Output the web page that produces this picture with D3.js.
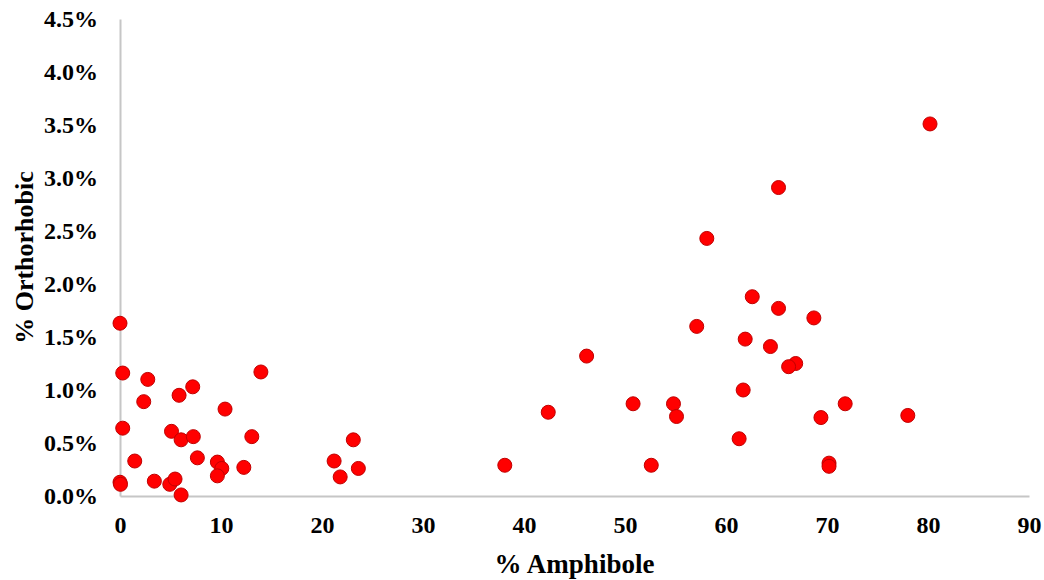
<!DOCTYPE html>
<html>
<head>
<meta charset="utf-8">
<script src="https://cdn.jsdelivr.net/npm/d3@7"></script>
<style>
  body { margin: 0; background: #fff; }
  text { font-family: "Liberation Serif", "Times New Roman", serif; font-weight: bold; fill: #000; }
</style>
</head>
<body>
<div id="chart"></div>
<script>
// % Amphibole (x) and % Orthorhombic (y)
const amphibole = [
  0.0, 0.27, 2.75, 2.35, 5.85, 7.2, 13.95, 10.4, 0.27, 5.1,
  6.05, 7.26, 13.05, 1.46, 7.66, 9.64, 10.08, 9.64, 12.26, 0.0,
  0.05, 3.4, 4.93, 5.45, 6.05,
  23.1, 21.2, 23.6, 21.8, 38.1,
  58.1, 57.1, 46.2, 42.4, 50.8, 54.8, 55.1, 52.6,
  80.2, 65.2, 62.6, 65.2, 68.7, 61.9, 64.4, 66.9, 66.2, 61.7,
  71.8, 69.4, 78.0, 61.3, 70.2, 70.2
];
const orthorhombic = [
  1.63, 1.16, 1.10, 0.89, 0.95, 1.03, 1.17, 0.82, 0.64, 0.61,
  0.53, 0.56, 0.56, 0.33, 0.36, 0.32, 0.26, 0.19, 0.27, 0.13,
  0.11, 0.14, 0.11, 0.16, 0.01,
  0.53, 0.33, 0.26, 0.18, 0.29,
  2.43, 1.60, 1.32, 0.79, 0.87, 0.87, 0.75, 0.29,
  3.51, 2.91, 1.88, 1.77, 1.68, 1.48, 1.41, 1.25, 1.22, 1.00,
  0.87, 0.74, 0.76, 0.54, 0.31, 0.28
];
const xTicks = [0, 10, 20, 30, 40, 50, 60, 70, 80, 90];
const yTicks = [0, 0.5, 1.0, 1.5, 2.0, 2.5, 3.0, 3.5, 4.0, 4.5];

const points = amphibole.map((a, i) => ({ x: a, y: orthorhombic[i] }));

const width = 1044;
const height = 580;

const svg = d3.select('#chart')
  .append('svg')
  .attr('width', width)
  .attr('height', height);

// Scales
const x = d3.scaleLinear().domain([0, 90]).range([120, 1029]);
const y = d3.scaleLinear().domain([0, 4.5]).range([496, 19]);

// X axis
const xAxis = svg.append('g')
  .attr('transform', `translate(0,${y(0)})`)
  .call(d3.axisBottom(x).tickValues(xTicks).tickSize(0).tickPadding(20).tickFormat(d3.format('d')));

xAxis.select('.domain')
  .attr('stroke', '#c6c6c6')
  .attr('stroke-width', 2);

xAxis.selectAll('text')
  .style('font-size', '24px')
  .style('font-family', '"Liberation Serif", serif')
  .style('font-weight', 'bold')
  .attr('fill', '#000');

// Y axis
const yAxis = svg.append('g')
  .attr('transform', `translate(${x(0)},0)`)
  .call(d3.axisLeft(y).tickValues(yTicks).tickSize(0).tickPadding(22).tickFormat(d => d.toFixed(1) + '%'));

yAxis.select('.domain')
  .attr('stroke', '#c6c6c6')
  .attr('stroke-width', 2);

yAxis.selectAll('text')
  .style('font-size', '24px')
  .style('font-family', '"Liberation Serif", serif')
  .style('font-weight', 'bold')
  .attr('fill', '#000');

// Points
svg.append('g')
  .selectAll('circle')
  .data(points)
  .enter().append('circle')
  .attr('cx', d => x(d.x))
  .attr('cy', d => y(d.y))
  .attr('r', 7)
  .attr('fill', '#ff0000')
  .attr('stroke', '#c00000')
  .attr('stroke-width', 1);

// Axis titles
svg.append('text')
  .attr('x', (x(0) + x(90)) / 2)
  .attr('y', 573)
  .style('text-anchor', 'middle')
  .style('font-size', '27px')
  .text('% Amphibole');

svg.append('text')
  .attr('transform', `translate(33, ${(y(0) + y(4.5)) / 2}) rotate(-90)`)
  .style('text-anchor', 'middle')
  .style('font-size', '26px')
  .text('% Orthorhobic');
</script>
</body>
</html>
